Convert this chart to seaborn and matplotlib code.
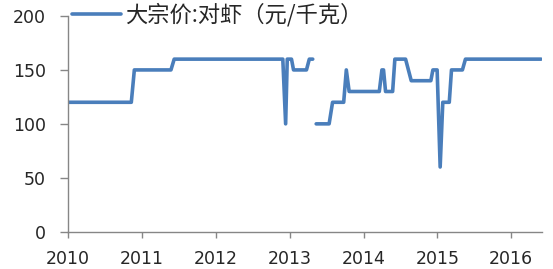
import matplotlib
matplotlib.use("Agg")
import matplotlib.pyplot as plt
import matplotlib.dates as mdates
import seaborn as sns
import pandas as pd
import numpy as np

series_name = "大宗价:对虾（元/千克）"

# segment 1 (2010-01 to 2013-04)
dates_1 = ["2010-01-01", "2010-11-10", "2010-11-25", "2011-05-25", "2011-06-10",
           "2012-11-28", "2012-12-12", "2012-12-20", "2013-01-10", "2013-01-20",
           "2013-03-25", "2013-04-08", "2013-04-25"]
values_1 = [120, 120, 150, 150, 160,
            160, 100, 160, 160, 150,
            150, 160, 160]

# segment 2 (2013-05 to 2016-05)
dates_2 = ["2013-05-12", "2013-07-15", "2013-08-01", "2013-09-25", "2013-10-08",
           "2013-10-22", "2014-03-20", "2014-04-02", "2014-04-10", "2014-04-20",
           "2014-05-25", "2014-06-05", "2014-07-28", "2014-08-25", "2014-11-30",
           "2014-12-10", "2014-12-31", "2015-01-15", "2015-01-28", "2015-03-01",
           "2015-03-12", "2015-05-05", "2015-05-20", "2016-05-28"]
values_2 = [100, 100, 120, 120, 150,
            130, 130, 150, 150, 130,
            130, 160, 160, 140, 140,
            150, 150, 60, 120, 120,
            150, 150, 160, 160]

y_ticks = [0, 50, 100, 150, 200]

df = pd.concat([
    pd.DataFrame({"date": pd.to_datetime(dates_1), "value": values_1, "seg": 1}),
    pd.DataFrame({"date": pd.to_datetime(dates_2), "value": values_2, "seg": 2}),
], ignore_index=True)
df["series"] = series_name

color = "#4A7EBB"
gray = "#868686"
txt = "#262626"

sns.set_style("white")
plt.rcParams['font.family'] = ['DejaVu Sans']

fig = plt.figure(figsize=(5.53, 2.69), dpi=100)
ax = fig.add_axes([68/553, 1-231.7/269, (541.7-68)/553, (231.7-16)/269])

sns.lineplot(data=df, x="date", y="value", hue="series", units="seg",
             estimator=None, palette=[color], linewidth=2.6, ax=ax, legend=True)

ax.set_xlim(pd.Timestamp("2010-01-01"), pd.Timestamp("2016-05-31"))
ax.set_ylim(0, 200)
ax.set_yticks(y_ticks)
ax.xaxis.set_major_locator(mdates.YearLocator())
ax.xaxis.set_major_formatter(mdates.DateFormatter("%Y"))
ax.set_xlabel("")
ax.set_ylabel("")

for s in ["top", "right"]:
    ax.spines[s].set_visible(False)
for s in ["left", "bottom"]:
    ax.spines[s].set_color(gray)
    ax.spines[s].set_linewidth(1.0)

ax.tick_params(axis="y", direction="out", length=6, width=1, color=gray,
               pad=10, labelsize=12.5, labelcolor=txt, left=True)
ax.tick_params(axis="x", direction="out", length=4, width=1, color=gray,
               pad=9, labelsize=12.5, labelcolor=txt, bottom=True)

handles, labels = ax.get_legend_handles_labels()
leg = ax.legend(handles, labels, loc="center left",
                bbox_to_anchor=(72/553, 1-15/269), bbox_transform=fig.transFigure,
                frameon=False, borderpad=0, borderaxespad=0,
                handlelength=2.2, handletextpad=0.2,
                prop={"family": ["Noto Sans CJK SC", "DejaVu Sans"], "size": 16})
for t in leg.get_texts():
    t.set_color(txt)
for l in leg.get_lines():
    l.set_linewidth(2.6)

fig.savefig("out.png", dpi=100)
